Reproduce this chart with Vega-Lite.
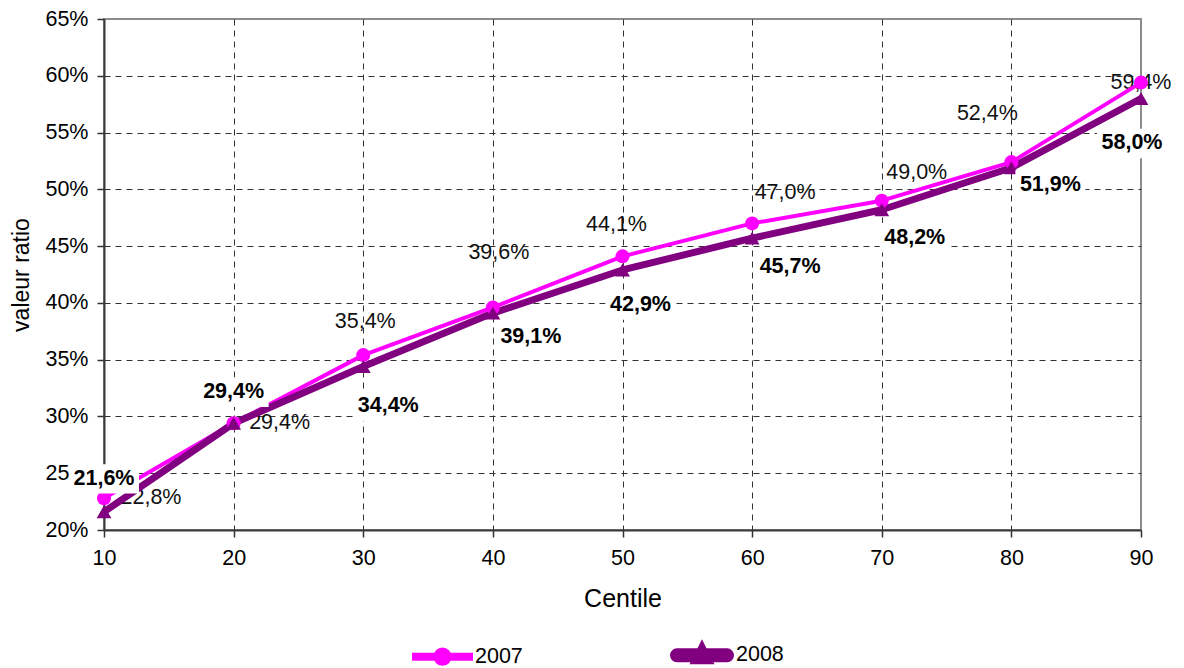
{
  "$schema": "https://vega.github.io/schema/vega-lite/v6.json",
  "width": 1037,
  "height": 511,
  "autosize": {"type": "none"},
  "padding": {"left": 104, "top": 19, "right": 43, "bottom": 138},
  "background": "white",
  "config": {
    "font": "Liberation Sans",
    "view": {"stroke": "#8c8c8c", "strokeWidth": 2},
    "locale": {"number": {"decimal": ",", "thousands": ".", "grouping": [3], "currency": ["", " €"]}}
  },
  "data": {
    "values": [
      {"centile": 10, "year": "2007", "value": 0.228},
      {"centile": 20, "year": "2007", "value": 0.294},
      {"centile": 30, "year": "2007", "value": 0.354},
      {"centile": 40, "year": "2007", "value": 0.396},
      {"centile": 50, "year": "2007", "value": 0.441},
      {"centile": 60, "year": "2007", "value": 0.470},
      {"centile": 70, "year": "2007", "value": 0.490},
      {"centile": 80, "year": "2007", "value": 0.524},
      {"centile": 90, "year": "2007", "value": 0.594},
      {"centile": 10, "year": "2008", "value": 0.216},
      {"centile": 20, "year": "2008", "value": 0.294},
      {"centile": 30, "year": "2008", "value": 0.344},
      {"centile": 40, "year": "2008", "value": 0.391},
      {"centile": 50, "year": "2008", "value": 0.429},
      {"centile": 60, "year": "2008", "value": 0.457},
      {"centile": 70, "year": "2008", "value": 0.482},
      {"centile": 80, "year": "2008", "value": 0.519},
      {"centile": 90, "year": "2008", "value": 0.580}
    ]
  },
  "encoding": {
    "x": {
      "field": "centile", "type": "quantitative",
      "scale": {"domain": [10, 90], "nice": false, "zero": false},
      "axis": {
        "values": [10, 20, 30, 40, 50, 60, 70, 80, 90],
        "title": "Centile", "titleFontSize": 25, "titleFontWeight": "normal", "titleColor": "#000", "titlePadding": 18,
        "labelFontSize": 21.5, "labelColor": "#000", "labelPadding": 10, "labelFlush": false,
        "tickSize": 7, "tickColor": "#333", "tickWidth": 1.5,
        "domainColor": "#3a3a3a", "domainWidth": 2,
        "grid": true, "gridColor": "#333", "gridDash": [6, 5], "gridWidth": 1,
        "gridOpacity": {"condition": {"test": "datum.value >= 90", "value": 0}, "value": 1}
      }
    },
    "y": {
      "field": "value", "type": "quantitative",
      "scale": {"domain": [0.2, 0.65], "nice": false, "zero": false},
      "axis": {
        "values": [0.2, 0.25, 0.3, 0.35, 0.4, 0.45, 0.5, 0.55, 0.6, 0.65],
        "format": ".0%",
        "title": "valeur ratio", "titleFontSize": 23, "titleFontWeight": "normal", "titleColor": "#000", "titlePadding": 11,
        "labelFontSize": 21.5, "labelColor": "#000", "labelPadding": 9,
        "tickSize": 7, "tickColor": "#333", "tickWidth": 1.5,
        "domainColor": "#3a3a3a", "domainWidth": 2,
        "grid": true, "gridColor": "#333", "gridDash": [6, 5], "gridWidth": 1,
        "gridOpacity": {"condition": {"test": "datum.value >= 0.649", "value": 0}, "value": 1}
      }
    }
  },
  "layer": [
    {
      "transform": [{"filter": "datum.year === '2007'"}],
      "mark": {
        "type": "text", "fontSize": 21.5, "color": "#111", "align": "center", "baseline": "middle",
        "dx": {"expr": "[47,46,2,6,-6,33,35,-24,0][datum.centile/10-1]"},
        "dy": {"expr": "[0,0,-33,-54,-31,-30,-28,-48,0][datum.centile/10-1]"}
      },
      "encoding": {"text": {"field": "value", "type": "quantitative", "format": ".1%"}}
    },
    {
      "mark": {"type": "line", "strokeJoin": "round"},
      "encoding": {
        "color": {
          "field": "year", "type": "nominal",
          "scale": {"domain": ["2007", "2008"], "range": ["#ff00ff", "#800080"]},
          "legend": {
            "title": null, "orient": "none", "direction": "horizontal",
            "legendX": 308, "legendY": 604, "padding": 0,
            "symbolSize": 3249, "symbolStrokeWidth": 0, "symbolOpacity": 1,
            "labelFontSize": 21.5, "labelColor": "#000", "labelOffset": 2,
            "columnPadding": 136,
            "encode": {
              "symbols": {
                "update": {
                  "shape": {"signal": "datum.value === '2007' ? 'M-1,-0.07H1V0.07H-1Z M0.25,0A0.25,0.25,0,1,1,-0.25,0A0.25,0.25,0,1,1,0.25,0Z' : 'M-0.88,-0.12H0.88A0.12,0.12,0,0,1,0.88,0.12H-0.88A0.12,0.12,0,0,1,-0.88,-0.12Z M0,-0.29L0.24,0.19H-0.24Z'"},
                  "fill": {"signal": "datum.value === '2007' ? '#ff00ff' : '#800080'"},
                  "fillOpacity": {"value": 1},
                  "strokeWidth": {"value": 0}
                }
              }
            }
          }
        },
        "strokeWidth": {
          "field": "year", "type": "nominal",
          "scale": {"domain": ["2007", "2008"], "range": [4, 7]},
          "legend": null
        }
      }
    },
    {
      "transform": [{"filter": "datum.year === '2007'"}],
      "mark": {"type": "point", "shape": "circle", "filled": true, "fill": "#ff00ff", "opacity": 1, "size": 196, "strokeWidth": 0}
    },
    {
      "transform": [{"filter": "datum.year === '2008'"}],
      "mark": {"type": "point", "shape": "triangle-up", "filled": true, "fill": "#800080", "opacity": 1, "size": 220, "strokeWidth": 0}
    },
    {
      "transform": [{"filter": "datum.year === '2008'"}],
      "mark": {
        "type": "point", "filled": true, "fill": "white", "opacity": 1, "strokeWidth": 0,
        "shape": "M-1,-0.42H1V0.42H-1Z", "size": 4900,
        "xOffset": {"expr": "[0,0,25,38,18,38,33,39,-9][datum.centile/10-1]"},
        "yOffset": {"expr": "[-33,-31,40,24,35,29,28,17,45][datum.centile/10-1]"}
      }
    },
    {
      "transform": [{"filter": "datum.year === '2008'"}],
      "mark": {
        "type": "text", "fontSize": 21.5, "fontWeight": "bold", "color": "#000", "align": "center", "baseline": "middle",
        "dx": {"expr": "[0,0,25,38,18,38,33,39,-9][datum.centile/10-1]"},
        "dy": {"expr": "[-33,-31,40,24,35,29,28,17,45][datum.centile/10-1]"}
      },
      "encoding": {"text": {"field": "value", "type": "quantitative", "format": ".1%"}}
    }
  ]
}
